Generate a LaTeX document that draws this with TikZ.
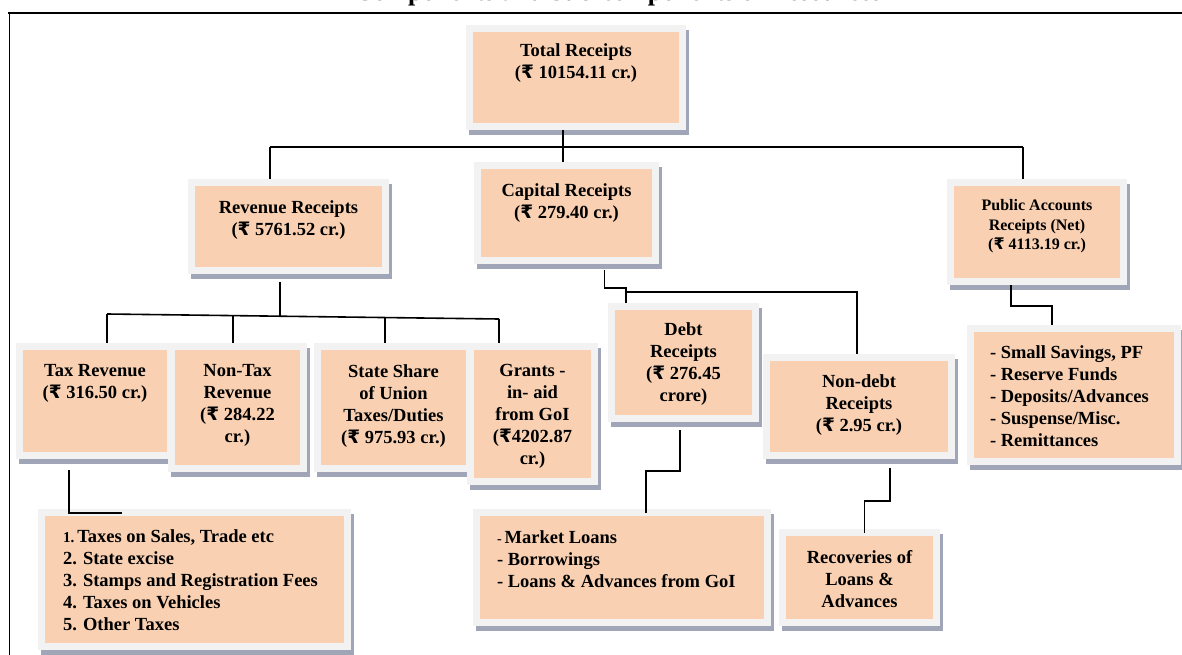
\documentclass[tikz,border=0pt]{standalone}
\usepackage{fontspec}
\setmainfont{Liberation Serif}
\newfontfamily\rsfallback{DejaVu Sans}
\usetikzlibrary{shadows,calc}
\definecolor{peach}{RGB}{249,209,178}
\definecolor{framegray}{RGB}{242,242,242}
\definecolor{shadowc}{RGB}{160,166,184}
\newcommand\rupee{\iffontchar\font"20B9 \symbol{"20B9}\else{\rsfallback\bfseries\symbol{"20B9}}\fi}
\newcommand\cbox[4]{\parbox[c][#2pt][t]{#1pt}{\centering\vspace*{#3pt}#4}}
\newcommand\lbox[5]{\parbox[c][#2pt][t]{#1pt}{\raggedright\leftskip=#4pt\relax\vspace*{#3pt}#5}}
\tikzset{
  box/.style={fill=framegray, inner sep=0pt, outer sep=0pt, anchor=north west,
    font=\bfseries\fontsize{18.5}{22}\selectfont,
    drop shadow={shadow xshift=3pt, shadow yshift=-5pt, fill=shadowc, opacity=1},
    path picture={\fill[peach] ([xshift=7pt,yshift=-7pt]path picture bounding box.north west) rectangle ([xshift=-7pt,yshift=7pt]path picture bounding box.south east);}},
  smallbox/.style={box, font=\bfseries\fontsize{16}{19.5}\selectfont},
  conn/.style={draw=black, line width=1.6pt},
}
\begin{document}
\begin{tikzpicture}[x=1pt,y=-1pt]
\useasboundingbox[fill=white] (0,0) rectangle (1182,655);
% title (cut off by the page edge) and frame
\node[font=\bfseries\fontsize{26}{30}\selectfont, anchor=base, inner sep=0pt] (title) at (618,1) {Components and Sub-components of Resources};
\draw[line width=2pt] (8,13) -- (1182,13);
\draw[line width=1.5pt] (9.5,12) -- (9.5,655);

% boxes
\node[box] (tot) at (466,25) {\cbox{220}{105}{18.5}{Total Receipts\\(\rupee{} 10154.11 cr.)}};
\node[box] (rev) at (188,179) {\cbox{201}{95}{21.5}{Revenue Receipts\\(\rupee{} 5761.52 cr.)}};
\node[box] (cap) at (474,162) {\cbox{185}{102}{21.5}{Capital Receipts\\(\rupee{} 279.40 cr.)}};
\node[smallbox] (pub) at (947,179) {\cbox{180}{106}{20.5}{Public Accounts\\Receipts (Net)\\(\rupee{} 4113.19 cr.)}};
\node[box] (tax) at (16,343) {\cbox{158}{116}{21.5}{Tax Revenue\\(\rupee{} 316.50 cr.)}};
\node[box] (nontax) at (168,343) {\cbox{139}{129}{21.5}{Non-Tax\\Revenue\\(\rupee{} 284.22\\cr.)}};
\node[box] (state) at (314,343) {\cbox{159}{129}{21.5}{State Share\\of Union\\Taxes/Duties\\(\rupee{} 975.93 cr.)}};
\node[box] (grants) at (467,343) {\cbox{131}{142}{21.5}{Grants -\\in- aid\\from GoI\\(\rupee 4202.87\\cr.)}};
\node[box] (debt) at (608,303) {\cbox{151}{119}{19.5}{Debt\\Receipts\\(\rupee{} 276.45\\crore)}};
\node[box] (nondebt) at (763,354) {\cbox{192}{105}{20.5}{Non-debt\\Receipts\\(\rupee{} 2.95 cr.)}};
\node[box] (pubitems) at (967,325) {\lbox{214}{140}{20.5}{23}{- Small Savings, PF\\- Reserve Funds\\- Deposits/Advances\\- Suspense/Misc.\\- Remittances}};
\node[box] (taxitems) at (38,509) {\lbox{313}{141}{21}{25}{{\fontsize{15}{22}\selectfont 1.}\hspace{3pt}Taxes on Sales, Trade etc\\2. State excise\\3. Stamps and Registration Fees\\4. Taxes on Vehicles\\5. Other Taxes}};
\node[box] (loans) at (473,509) {\lbox{298}{117}{21.5}{24}{{\fontsize{14}{22}\selectfont -}\hspace{3pt}Market Loans\\- Borrowings\\- Loans \& Advances from GoI}};
\node[box] (recov) at (779,529) {\cbox{161}{97}{21.5}{Recoveries of\\Loans \&\\Advances}};

% connectors
\coordinate (bM) at (563,147);
\coordinate (bL) at (270,147);
\coordinate (bR) at (1023,147);
\draw[conn] (tot.south -| bM) -- (cap.north -| bM);
\draw[conn] (bL) -- (bR);
\draw[conn] (bL) -- (rev.north -| bL);
\draw[conn] (bR) -- (pub.north -| bR);

\coordinate (r1) at (107,314);
\coordinate (r4) at (499,319);
\coordinate (r0) at ($(r1)!0.442!(r4)$);
\coordinate (r2) at ($(r1)!0.321!(r4)$);
\coordinate (r3) at ($(r1)!0.709!(r4)$);
\draw[conn] ($(rev.south -| r0)+(0,8)$) -- (r0);
\draw[conn] (r1) -- (r4);
\draw[conn] (r1) -- (tax.north -| r1);
\draw[conn] (r2) -- (nontax.north -| r2);
\draw[conn] (r3) -- (state.north -| r3);
\draw[conn] (r4) -- (grants.north -| r4);

\coordinate (c1) at (604.5,288);
\coordinate (c2) at (626,288);
\coordinate (c3) at (626,292);
\coordinate (c4) at (857,292);
\draw[conn] ($(cap.south -| c1)+(0,6)$) -- (c1) -- (c2) -- (debt.north -| c2);
\draw[conn] (c3) -- (c4) -- (nondebt.north -| c4);

\coordinate (p1) at (1011,306);
\coordinate (p2) at (1052,306);
\draw[conn] (pub.south -| p1) -- (p1) -- (p2) -- (pubitems.north -| p2);

\coordinate (t1) at (69,513);
\coordinate (t2) at (122,513);
\draw[conn] ($(tax.south -| t1)+(0,11)$) -- (t1) -- (t2);

\coordinate (d1) at (680,471);
\coordinate (d2) at (646,471);
\draw[conn] ($(debt.south -| d1)+(0,8)$) -- (d1) -- (d2) -- ($(loans.north -| d2)+(0,4)$);

\coordinate (n1) at (890,501);
\coordinate (n2) at (864.5,501);
\draw[conn] ($(nondebt.south -| n1)+(0,9)$) -- (n1) -- (n2) -- ($(recov.north -| n2)+(0,4)$);
\end{tikzpicture}
\end{document}
